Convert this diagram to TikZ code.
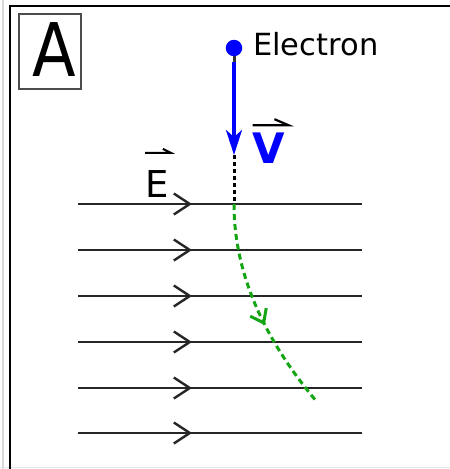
\documentclass[tikz,border=0pt]{standalone}
\usepackage{fontspec}
\setmainfont{DejaVu Sans}
\usetikzlibrary{arrows.meta,decorations.markings}
\definecolor{pathgreen}{RGB}{20,165,20}
\begin{document}
\begin{tikzpicture}[x=1pt,y=-1pt,
  fieldline/.style={line width=2pt, draw=black!85, postaction={decorate},
    decoration={markings, mark=at position 0.4014 with {\arrow{Straight Barb[length=16pt,width=21pt,line width=2.4pt]}}}},
  veclabel/.style={inner sep=0pt, anchor=base},
  vecarrow/.style={line width=2.2pt, line join=miter, black}
]
\useasboundingbox (0,0) rectangle (450,469);
\fill[white] (0,0) rectangle (450,469);
% frame
\draw[black!15, line width=1.5pt] (3,0) -- (3,469);
\draw[black!10, line width=1.5pt] (0,467.5) -- (450,467.5);
\draw[line width=2pt] (10,469) -- (10,6) -- (450,6);
% label box A
\node[draw=black!70, line width=1.2pt, minimum width=62pt, minimum height=75pt, inner sep=0pt] (boxA) at (50,51.5) {};
\node[inner sep=0pt, font=\fontsize{74}{74}\selectfont] (letterA) at (54,50) {\scalebox{0.86}[1]{A}};
% field lines
\foreach \i/\y in {1/204,2/250,3/296,4/342,5/388,6/433}{
  \coordinate (L\i) at (78,\y);
  \coordinate (R\i) at (362,\y);
  \draw[fieldline] (L\i) -- (R\i);
}
% electron
\node[circle, fill=blue, minimum size=16.5pt, inner sep=0pt] (e) at (234,48) {};
\node[anchor=base west, inner sep=0pt, font=\fontsize{30.5}{30.5}\selectfont] (elab) at (253,55) {Electron};
\coordinate (vstart) at (234,62);
\coordinate (vtip) at (234,155);
\coordinate (s0) at (234,204);
\coordinate (gend) at (317,402);
\draw[black!80, line width=3pt] (e.south) -- (vstart);
\draw[black, line width=3pt, dash pattern=on 4pt off 3pt] (vtip) -- (s0);
\draw[blue, line width=3.2pt, -{Stealth[length=25pt,width=16pt,inset=7pt]}] (vstart) -- (vtip);
% trajectory
\draw[pathgreen, line width=3pt, dash pattern=on 6pt off 4pt, postaction={decorate},
  decoration={markings, mark=at position 0.575 with {\arrow{Straight Barb[length=12pt,width=18pt,line width=3pt]}}}]
  (s0) .. controls (234,270.7) and (261.7,336.3) .. (gend);
% vector labels
\node[veclabel, text=blue, font=\bfseries\fontsize{42}{42}\selectfont] (vlab) at (269,163) {V};
\coordinate (vA) at ([yshift=7pt]vlab.north west);
\coordinate (vB) at ([yshift=7pt,xshift=3pt]vlab.north east);
\draw[vecarrow] (vA) -- (vB) -- ++(-14,-6);
\node[veclabel, font=\fontsize{37}{37}\selectfont] (Elab) at (157,197) {E};
\coordinate (eA) at ([yshift=17pt]Elab.north west);
\coordinate (eB) at ([yshift=17pt,xshift=2pt]Elab.north east);
\draw[vecarrow, line width=2pt] (eA) -- (eB) -- ++(-8,-4);
\end{tikzpicture}
\end{document}
